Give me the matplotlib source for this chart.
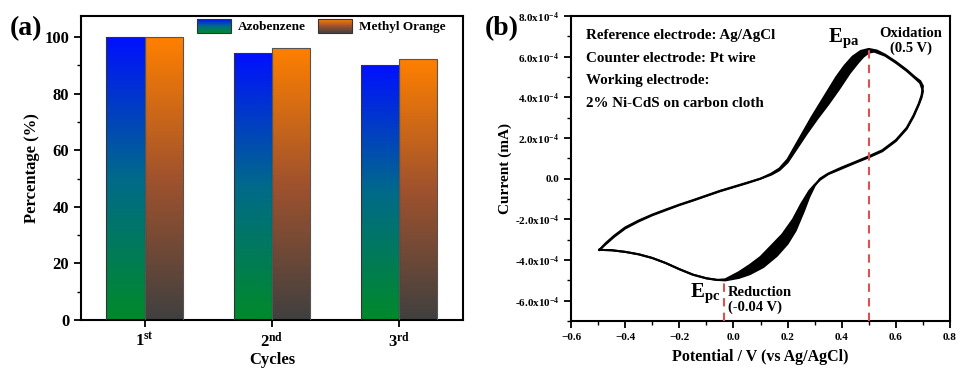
import matplotlib
matplotlib.use('Agg')
import matplotlib.pyplot as plt
import numpy as np
from matplotlib.colors import LinearSegmentedColormap
from matplotlib.legend_handler import HandlerBase
from matplotlib.patches import Rectangle
from matplotlib.ticker import MultipleLocator

plt.rcParams['font.family'] = ['Liberation Serif', 'DejaVu Serif']
plt.rcParams['font.weight'] = 'bold'
plt.rcParams['mathtext.fontset'] = 'custom'
plt.rcParams['mathtext.rm'] = 'Liberation Serif:bold'
plt.rcParams['mathtext.it'] = 'Liberation Serif:bold'
plt.rcParams['mathtext.bf'] = 'Liberation Serif:bold'

# (a) recyclability
cycles = ['1$^{st}$', '2$^{nd}$', '3$^{rd}$']
azobenzene = [100, 94.4, 90.3]
methyl_orange = [100, 96.3, 92.4]

# (b) CV, current in units of 1e-4 mA; first and last scan of the band
cv_first_E = [-0.495, -0.47, -0.44, -0.40, -0.35, -0.30, -0.25, -0.20, -0.15, -0.10,
              -0.05, 0.00, 0.05, 0.10, 0.14, 0.17, 0.20, 0.23, 0.26, 0.29,
              0.32, 0.35, 0.38, 0.41, 0.44, 0.47, 0.50, 0.53, 0.56, 0.60,
              0.64, 0.67, 0.69, 0.70, 0.695, 0.685, 0.665, 0.64, 0.60, 0.55,
              0.50, 0.45, 0.40, 0.35, 0.32, 0.30, 0.28, 0.26, 0.23, 0.20,
              0.16, 0.11, 0.06, 0.02, -0.03, -0.06, -0.10, -0.15, -0.20, -0.25,
              -0.30, -0.35, -0.40, -0.45, -0.495]
cv_first_I = [-3.5, -3.2, -2.85, -2.45, -2.1, -1.8, -1.55, -1.3, -1.08, -0.85,
              -0.62, -0.42, -0.22, 0.0, 0.25, 0.5, 0.95, 1.65, 2.35, 3.05,
              3.7, 4.35, 5.0, 5.55, 6.0, 6.28, 6.38, 6.3, 6.1, 5.75,
              5.35, 5.0, 4.8, 4.55, 4.1, 3.7, 3.1, 2.5, 1.9, 1.4,
              1.1, 0.82, 0.55, 0.25, 0.0, -0.35, -0.9, -1.6, -2.55, -3.2,
              -3.8, -4.35, -4.7, -4.88, -5.0, -4.98, -4.9, -4.72, -4.45, -4.15,
              -3.9, -3.72, -3.6, -3.52, -3.5]
cv_last_E = [-0.495, -0.47, -0.44, -0.40, -0.35, -0.30, -0.25, -0.20, -0.15, -0.10,
             -0.05, 0.00, 0.05, 0.10, 0.14, 0.17, 0.20, 0.23, 0.27, 0.31,
             0.35, 0.39, 0.43, 0.46, 0.48, 0.50, 0.52, 0.56, 0.60,
             0.64, 0.67, 0.69, 0.70, 0.695, 0.685, 0.665, 0.64, 0.60, 0.55,
             0.50, 0.45, 0.40, 0.35, 0.32, 0.30, 0.28, 0.25, 0.22, 0.18,
             0.14, 0.10, 0.06, 0.02, -0.03, -0.06, -0.10, -0.15, -0.20, -0.25,
             -0.30, -0.35, -0.40, -0.45, -0.495]
cv_last_I = [-3.5, -3.15, -2.8, -2.4, -2.06, -1.77, -1.52, -1.28, -1.06, -0.83,
             -0.6, -0.4, -0.2, 0.0, 0.2, 0.42, 0.8, 1.4, 2.2, 2.95,
             3.65, 4.4, 5.2, 5.7, 6.0, 6.2, 6.25, 6.05, 5.7,
             5.3, 4.95, 4.7, 4.3, 4.0, 3.65, 3.05, 2.45, 1.85, 1.35,
             1.05, 0.78, 0.5, 0.22, -0.05, -0.3, -0.6, -1.25, -2.0, -2.75,
             -3.3, -3.85, -4.25, -4.6, -4.95, -4.98, -4.9, -4.72, -4.45, -4.15,
             -3.9, -3.72, -3.6, -3.52, -3.5]

epa, ipa = 0.5, 6.38
epc, ipc = -0.035, -4.98

current_ticks = [-6e-4, -4e-4, -2e-4, 0.0, 2e-4, 4e-4, 6e-4, 8e-4]
current_labels = ['-6.0x10$^{-4}$', '-4.0x10$^{-4}$', '-2.0x10$^{-4}$', '0.0',
                  '2.0x10$^{-4}$', '4.0x10$^{-4}$', '6.0x10$^{-4}$', '8.0x10$^{-4}$']

azo_cmap = LinearSegmentedColormap.from_list('azo', ['#008a2a', '#006a8a', '#0010ff'])
mo_cmap = LinearSegmentedColormap.from_list('mo', ['#404040', '#a0522d', '#ff8000'])


class GradHandler(HandlerBase):
    def __init__(self, cmap):
        super().__init__()
        self.cmap = cmap

    def create_artists(self, legend, orig_handle, xdescent, ydescent, width, height, fontsize, trans):
        arts = []
        n = 24
        for i in range(n):
            arts.append(Rectangle((-xdescent, -ydescent + height * i / n), width, height / n * 1.05,
                                  facecolor=self.cmap((i + 0.5) / n), edgecolor='none', transform=trans))
        arts.append(Rectangle((-xdescent, -ydescent), width, height, facecolor='none',
                              edgecolor='#333333', lw=0.8, transform=trans))
        return arts


def gradient_bars(ax, bars, cmap):
    grad = np.linspace(0, 1, 256).reshape(-1, 1)
    for b in bars:
        x, y = b.get_xy()
        im = ax.imshow(grad, cmap=cmap, extent=[x, x + b.get_width(), y, y + b.get_height()],
                       origin='lower', aspect='auto', zorder=2)
        im.set_clip_path(b)


fig = plt.figure(figsize=(9.6, 3.68), dpi=100)

# ---------- (a)
ax1 = fig.add_axes([0.0844, 0.1304, 0.3978, 0.8261])
x = np.arange(1, len(cycles) + 1)
w = 0.3
b1 = ax1.bar(x - w / 2, azobenzene, w, facecolor='none', edgecolor='#333333', lw=0.8, zorder=3)
b2 = ax1.bar(x + w / 2, methyl_orange, w, facecolor='none', edgecolor='#555555', lw=0.8, zorder=3)
gradient_bars(ax1, b1, azo_cmap)
gradient_bars(ax1, b2, mo_cmap)
ax1.set_xlim(0.5, 3.5)
ax1.set_ylim(0, 107.5)
ax1.set_xticks(x)
ax1.set_xticklabels(cycles)
ax1.yaxis.set_major_locator(MultipleLocator(20))
ax1.yaxis.set_minor_locator(MultipleLocator(10))
ax1.tick_params(axis='both', which='major', direction='out', length=5, width=1.3, labelsize=12)
ax1.tick_params(axis='y', which='minor', direction='out', length=3, width=1.0)
for s in ax1.spines.values():
    s.set_linewidth(1.5)
ax1.set_xlabel('Cycles', fontsize=12, fontweight='bold', labelpad=1)
ax1.set_ylabel('Percentage (%)', fontsize=12, fontweight='bold', labelpad=3)
h1 = Rectangle((0, 0), 1, 1)
h2 = Rectangle((0, 0), 1, 1)
ax1.legend([h1, h2], ['Azobenzene', 'Methyl Orange'], ncol=2, frameon=False,
           loc='upper right', bbox_to_anchor=(0.985, 1.03), fontsize=9.5,
           handlelength=2.6, handleheight=1.3, columnspacing=0.9, handletextpad=0.5,
           handler_map={h1: GradHandler(azo_cmap), h2: GradHandler(mo_cmap)})
fig.text(0.010, 0.905, '(a)', fontsize=20, fontweight='bold')

# ---------- (b)
ax2 = fig.add_axes([0.5948, 0.1277, 0.3948, 0.8288])
scale = 1e-4
ax2.fill(np.concatenate([cv_first_E, cv_last_E[::-1]]),
         np.concatenate([cv_first_I, cv_last_I[::-1]]) * scale,
         facecolor='black', edgecolor='none', zorder=2)
ax2.plot(cv_first_E, np.array(cv_first_I) * scale, color='black', lw=1.5, zorder=3)
ax2.plot(cv_last_E, np.array(cv_last_I) * scale, color='black', lw=1.5, zorder=3)
ax2.set_xlim(-0.6, 0.8)
ax2.set_ylim(-7e-4, 8e-4)
ax2.vlines(epa, -7e-4, ipa * scale, colors='#d9534f', linestyles=(0, (4, 3)), lw=1.5, zorder=4)
ax2.vlines(epc, -7e-4, ipc * scale, colors='#d9534f', linestyles=(0, (4, 3)), lw=1.5, zorder=4)
ax2.xaxis.set_major_locator(MultipleLocator(0.2))
ax2.xaxis.set_minor_locator(MultipleLocator(0.1))
ax2.set_yticks(current_ticks)
ax2.set_yticklabels(current_labels)
ax2.yaxis.set_minor_locator(MultipleLocator(1e-4))
ax2.tick_params(axis='both', which='major', direction='out', length=5, width=1.3, labelsize=8)
ax2.tick_params(axis='both', which='minor', direction='out', length=3, width=1.0)
for s in ax2.spines.values():
    s.set_linewidth(1.5)
ax2.set_xlabel('Potential / V (vs Ag/AgCl)', fontsize=11.5, fontweight='bold', labelpad=5)
ax2.set_ylabel('Current (mA)', fontsize=11, fontweight='bold', labelpad=2)

info = ['Reference electrode: Ag/AgCl', 'Counter electrode: Pt wire',
        'Working electrode:', '2% Ni-CdS on carbon cloth']
for i, line in enumerate(info):
    ax2.text(0.04, 0.935 - i * 0.074, line, transform=ax2.transAxes, fontsize=10.8,
             fontweight='bold', va='center', ha='left')
ax2.text(0.35, 6.9e-4, 'E$_{pa}$', fontsize=15, ha='left', va='center')
ax2.text(0.655, 6.75e-4, 'Oxidation\n(0.5 V)', fontsize=10.5, ha='center', va='center', linespacing=1.15)
ax2.text(-0.16, -5.65e-4, 'E$_{pc}$', fontsize=15, ha='left', va='center')
ax2.text(-0.02, -5.95e-4, 'Reduction\n(-0.04 V)', fontsize=10.5, ha='left', va='center', linespacing=1.15)
fig.text(0.505, 0.905, '(b)', fontsize=20, fontweight='bold')

fig.savefig('out.png', dpi=100)
